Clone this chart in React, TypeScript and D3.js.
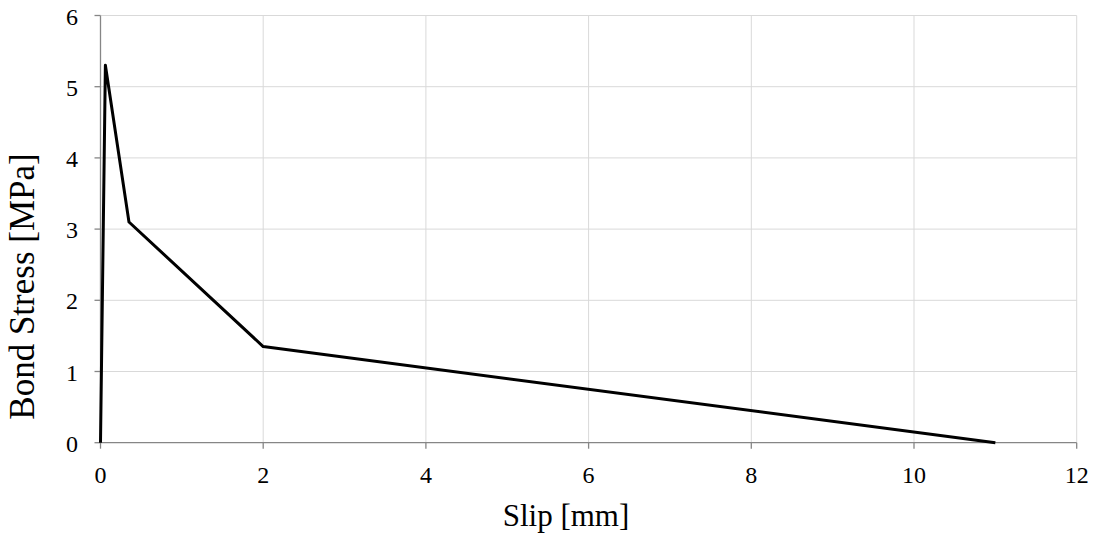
import React from "react";
import * as d3 from "d3";

// Bond–slip law: slip [mm] vs bond stress [MPa]
const slip = [0, 0.06, 0.35, 2, 11];
const stress = [0, 5.3, 3.1, 1.35, 0];
const xTicks = [0, 2, 4, 6, 8, 10, 12];
const yTicks = [0, 1, 2, 3, 4, 5, 6];

const W = 1095;
const H = 533;
const margin = { left: 100.5, right: 18.3, top: 15.5, bottom: 90.3 };

export default function App() {
  const x = d3.scaleLinear().domain([0, 12]).range([margin.left, W - margin.right]);
  const y = d3.scaleLinear().domain([0, 6]).range([H - margin.bottom, margin.top]);
  const pts: [number, number][] = slip.map((s, i) => [s, stress[i]]);
  const line = d3
    .line<[number, number]>()
    .x((d) => x(d[0]))
    .y((d) => y(d[1]))(pts);
  const font = "'Liberation Serif', 'Times New Roman', serif";
  const x0 = x(0);
  const y0 = y(0);
  return (
    <svg
      width={W}
      height={H}
      style={{ position: "absolute", left: 0, top: 0, background: "#fff" }}
      fontFamily={font}
    >
      {/* grid */}
      {xTicks.slice(1).map((t) => (
        <line key={"gx" + t} x1={x(t)} x2={x(t)} y1={y(0)} y2={y(6)} stroke="#d9d9d9" strokeWidth={1} />
      ))}
      {yTicks.slice(1).map((t) => (
        <line key={"gy" + t} x1={x(0)} x2={x(12)} y1={y(t)} y2={y(t)} stroke="#d9d9d9" strokeWidth={1} />
      ))}
      {/* axes */}
      <line x1={x0} x2={x(12)} y1={y0} y2={y0} stroke="#868686" strokeWidth={1.3} />
      <line x1={x0} x2={x0} y1={y(0)} y2={y(6)} stroke="#868686" strokeWidth={1.3} />
      {xTicks.map((t) => (
        <g key={"tx" + t}>
          <line x1={x(t)} x2={x(t)} y1={y0} y2={y0 + 6} stroke="#868686" strokeWidth={1.3} />
          <text x={x(t)} y={482.5} fontSize={24} textAnchor="middle" fill="#000">
            {t}
          </text>
        </g>
      ))}
      {yTicks.map((t) => (
        <g key={"ty" + t}>
          <line x1={x0 - 6} x2={x0} y1={y(t)} y2={y(t)} stroke="#868686" strokeWidth={1.3} />
          <text x={78} y={y(t) + 9} fontSize={24} textAnchor="end" fill="#000">
            {t}
          </text>
        </g>
      ))}
      {/* data */}
      <path d={line ?? ""} fill="none" stroke="#000" strokeWidth={3} strokeLinejoin="round" />
      {/* titles */}
      <text x={566} y={526} fontSize={31} textAnchor="middle" fill="#000">
        Slip [mm]
      </text>
      <text
        transform={`translate(34, 286.5) rotate(-90)`}
        fontSize={35}
        textAnchor="middle"
        fill="#000"
      >
        Bond Stress [MPa]
      </text>
    </svg>
  );
}
